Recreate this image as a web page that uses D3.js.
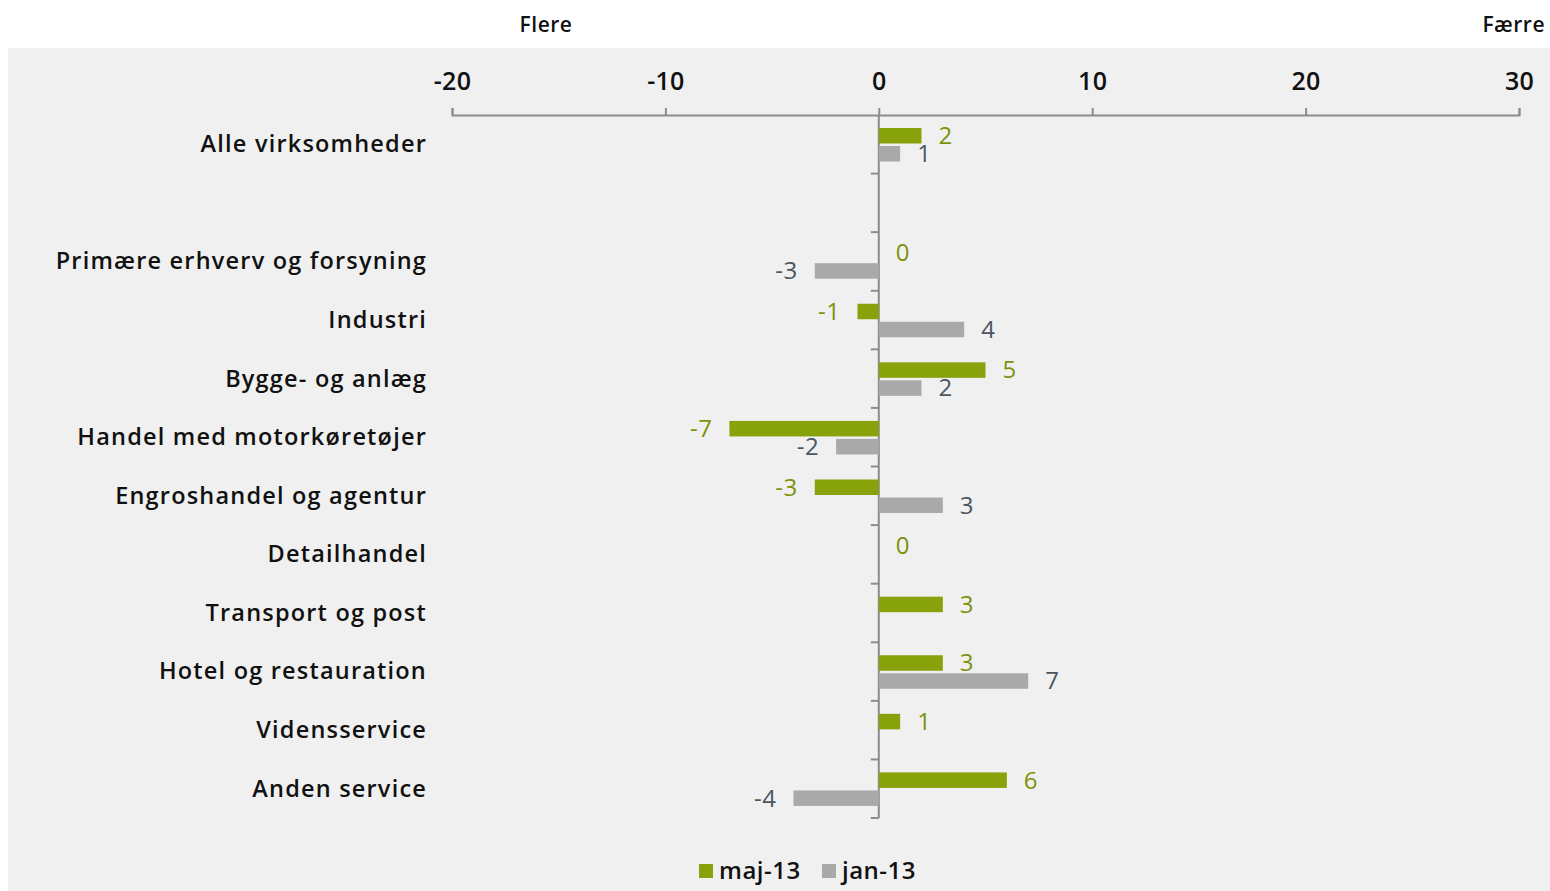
<!DOCTYPE html>
<html>
<head>
<meta charset="utf-8">
<script src="https://cdn.jsdelivr.net/npm/d3@7"></script>
<style>
  body { margin: 0; background: #fff; }
  svg { display: block; font-family: "Open Sans", sans-serif; font-weight: 600; }
</style>
</head>
<body>
<div id="chart"></div>
<script>
// categories, top to bottom (blank row after the total)
const categories = [
  "Alle virksomheder",
  "",
  "Primære erhverv og forsyning",
  "Industri",
  "Bygge- og anlæg",
  "Handel med motorkøretøjer",
  "Engroshandel og agentur",
  "Detailhandel",
  "Transport og post",
  "Hotel og restauration",
  "Vidensservice",
  "Anden service"
];
// null = no bar/label
const maj13 = [2, null, 0, -1, 5, -7, -3, 0, 3, 3, 1, 6];
const jan13 = [1, null, -3, 4, 2, -2, 3, null, null, 7, null, -4];
const xTicks = [-20, -10, 0, 10, 20, 30];
const seriesNames = ["maj-13", "jan-13"];

const W = 1550, H = 891;
const green = "#87a20b", grey = "#a9a9a9";
const greenText = "#7a930c", greyText = "#4b5661", axisCol = "#8c8c8c";

const svg = d3.select("#chart").append("svg")
  .attr("width", W).attr("height", H);

// panel
svg.append("rect").attr("x", 8).attr("y", 48).attr("width", W - 8).attr("height", H - 48)
  .attr("fill", "#f0f0f0");

// top notes
svg.append("text").attr("x", 546).attr("y", 32).attr("text-anchor", "middle")
  .attr("font-size", 21).attr("letter-spacing", 0.5).attr("fill", "#111").text("Flere");
svg.append("text").attr("x", 1545).attr("y", 32).attr("text-anchor", "end")
  .attr("font-size", 21).attr("letter-spacing", 0.5).attr("fill", "#111").text("Færre");

const x = d3.scaleLinear().domain([-20, 30]).range([452, 1519]);
const y = d3.scaleBand().domain(d3.range(categories.length)).range([115, 818]);
const bw = y.bandwidth();

// top axis
const gx = svg.append("g").attr("transform", "translate(0,115)")
  .call(d3.axisTop(x).tickValues(xTicks).tickSize(7).tickSizeOuter(7).tickPadding(18)
    .tickFormat(d => String(d)));
gx.selectAll("path, line").attr("stroke", axisCol).attr("stroke-width", 2);
gx.selectAll("text").attr("font-size", 25).attr("fill", "#111")
  .attr("font-family", "Open Sans, sans-serif").attr("font-weight", 600)
  .attr("letter-spacing", 0.3);

// vertical zero axis with band boundary ticks
const gy = svg.append("g");
gy.append("line").attr("x1", x(0)).attr("x2", x(0)).attr("y1", 115).attr("y2", 818)
  .attr("stroke", axisCol).attr("stroke-width", 2);
gy.selectAll("line.t").data(d3.range(1, categories.length + 1)).join("line")
  .attr("class", "t")
  .attr("x1", x(0) - 8).attr("x2", x(0))
  .attr("y1", d => y(0) + d * bw).attr("y2", d => y(0) + d * bw)
  .attr("stroke", axisCol).attr("stroke-width", 2);

// category labels
svg.append("g").selectAll("text").data(categories).join("text")
  .attr("x", 427).attr("y", (d, i) => y(i) + 29)
  .attr("dy", "0.35em").attr("text-anchor", "end")
  .attr("font-size", 23.5).attr("letter-spacing", 1.2).attr("fill", "#111").text(d => d);

// bars
const series = [
  { name: seriesNames[0], vals: maj13, fill: green, text: greenText, off: 13 },
  { name: seriesNames[1], vals: jan13, fill: grey, text: greyText, off: 31 }
];
const barH = 15.5;

series.forEach(s => {
  const rows = s.vals.map((v, i) => ({ v, i })).filter(d => d.v !== null);
  svg.append("g").selectAll("rect").data(rows.filter(d => d.v !== 0)).join("rect")
    .attr("x", d => x(Math.min(0, d.v)))
    .attr("width", d => Math.abs(x(d.v) - x(0)))
    .attr("y", d => y(d.i) + s.off)
    .attr("height", barH)
    .attr("fill", s.fill);
  svg.append("g").selectAll("text").data(rows).join("text")
    .attr("x", d => d.v < 0 ? x(d.v) - 17 : x(d.v) + 17)
    .attr("y", d => y(d.i) + s.off + barH / 2)
    .attr("dy", "0.35em")
    .attr("text-anchor", d => d.v < 0 ? "end" : "start")
    .attr("font-size", 24).attr("font-weight", 500).attr("letter-spacing", 0.5)
    .attr("fill", s.text)
    .text(d => d.v);
});

// legend
const leg = svg.append("g");
const legX = [699, 822];
series.forEach((s, k) => {
  leg.append("rect").attr("x", legX[k]).attr("y", 864).attr("width", 14).attr("height", 14)
    .attr("fill", s.fill);
  leg.append("text").attr("x", legX[k] + 20).attr("y", 871).attr("dy", "0.35em")
    .attr("font-size", 24).attr("letter-spacing", 0.5).attr("fill", "#111").text(s.name);
});
</script>
</body>
</html>
